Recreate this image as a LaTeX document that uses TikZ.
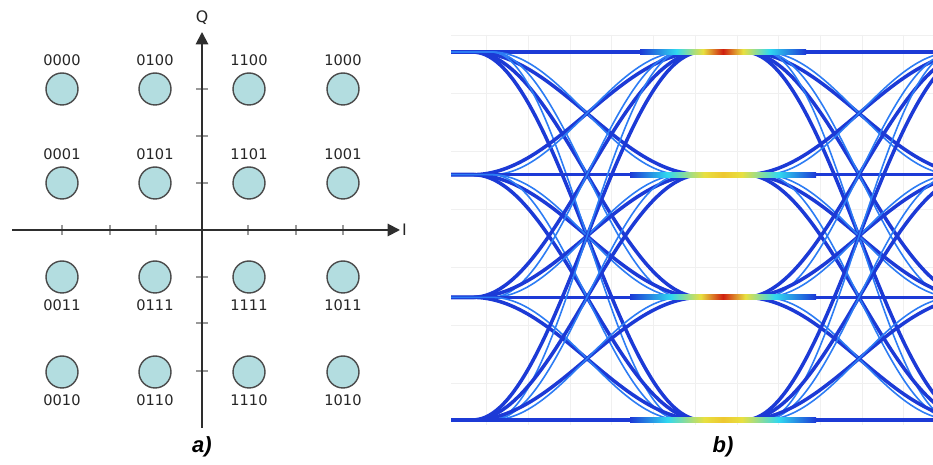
\documentclass[tikz,border=0pt]{standalone}
\usepackage{fontspec}
\setmainfont{DejaVu Sans}
\newfontfamily\capfont{Liberation Sans}
\usetikzlibrary{arrows.meta}
\definecolor{dotfill}{HTML}{B3DDE0}
\definecolor{dotline}{HTML}{4A4A4A}
\definecolor{axisgray}{HTML}{2E2E2E}
\definecolor{tracemain}{HTML}{1C3AD6}
\definecolor{tracelight}{HTML}{2C7CF4}
\definecolor{hotcyan}{HTML}{30D8F0}
\definecolor{hotyel}{HTML}{E8E040}
\definecolor{hotred}{HTML}{D02010}
% TikZ maps the path onto the span 25bp--75bp of the shading
\pgfdeclarehorizontalshading{eyered}{100bp}{color(0bp)=(tracemain); color(25bp)=(tracemain); color(36bp)=(hotcyan); color(44bp)=(hotyel); color(50bp)=(hotred); color(56bp)=(hotyel); color(64bp)=(hotcyan); color(75bp)=(tracemain); color(100bp)=(tracemain)}
\pgfdeclarehorizontalshading{eyeyel}{100bp}{color(0bp)=(tracemain); color(25bp)=(tracemain); color(35bp)=(hotcyan); color(45bp)=(hotyel); color(50bp)=(hotyel!75!orange); color(55bp)=(hotyel); color(65bp)=(hotcyan); color(75bp)=(tracemain); color(100bp)=(tracemain)}
\begin{document}
\begin{tikzpicture}[x=0.02cm, y=-0.02cm]
        \tikzstyle{dot}=[circle, draw=dotline, fill=dotfill, line width=0.8pt, minimum size=0.64cm, inner sep=0pt]
        \tikzstyle{bitlbl}=[font=\fontsize{8.3}{9}\selectfont, text=black!85]
        \tikzstyle{axis}=[draw=axisgray, line width=1.1pt, -{Triangle[length=7pt,width=7pt]}]
        \tikzstyle{tick}=[black!40, line width=0.6pt]
        \tikzstyle{axlbl}=[font=\fontsize{9}{10}\selectfont, text=black!85, inner sep=1pt]
        \tikzstyle{panel}=[font=\capfont\bfseries\itshape\fontsize{12.5}{14}\selectfont]
        \tikzstyle{trace}=[tracemain, line width=2pt]
        \tikzstyle{tracethin}=[tracelight, line width=0.9pt]
        \tikzstyle{gridline}=[black!6, line width=0.5pt]

        \useasboundingbox[fill=white] (0,0) rectangle (933,465);

        % Constellation a)
        \coordinate (iL) at (12,230);
        \coordinate (iR) at (400,230);
        \coordinate (qB) at (202,428);
        \coordinate (qT) at (202,32);
        \foreach \t in {62,110,156,248,296,343}
            \draw[tick] (\t,225) -- (\t,235);
        \foreach \t in {89,136,183,277,323,371}
            \draw[tick] (196,\t) -- (208,\t);
        \draw[axis] (iL) -- (iR);
        \draw[axis] (qB) -- (qT);
        \node[axlbl, anchor=west] (ilbl) at (iR) {I};
        \node[axlbl] (qlbl) at (202,18) {Q};

        \foreach \xx/\yy/\code/\side in {62/89/0000/above, 155/89/0100/above, 249/89/1100/above, 343/89/1000/above,
                                         62/183/0001/above, 155/183/0101/above, 249/183/1101/above, 343/183/1001/above,
                                         62/277/0011/below, 155/277/0111/below, 249/277/1111/below, 343/277/1011/below,
                                         62/372/0010/below, 155/372/0110/below, 249/372/1110/below, 343/372/1010/below}
            \node[dot, label={[bitlbl, name=t\code]\side:\code}] (d\code) at (\xx,\yy) {};

        \node[panel] (capa) at (202,447) {a)};

        % Eye diagram b)
        \begin{scope}
            \clip (451,30) rectangle (933,430);
            \foreach \gx in {486,528,570,611,653,695,737,778,820,862,903}
                \draw[gridline] (\gx,35) -- (\gx,425);
            \foreach \gy in {35,93,151,209,267,325,383}
                \draw[gridline] (451,\gy) -- (933,\gy);
            \foreach \k in {0,1}
            \foreach \i in {0,...,3}
            \foreach \j in {0,...,3} {
                \draw[trace] plot[domain=0:1, samples=40, smooth]
                    ({451+272*\k+272*\x}, {52+122.67*\i+122.67*(\j-\i)*(1-cos(180*min(max((\x-0.08)/0.84,0),1)))/2});
                \ifnum\i=\j\else
                \draw[tracethin] plot[domain=0:1, samples=40, smooth]
                    ({451+272*\k+272*\x}, {52+122.67*\i+122.67*(\j-\i)*(1-cos(180*min(max((\x-0.15)/0.70,0),1)))/2});
                \fi
            }
            % hot spots
            \shade[shading=eyered] (640,49.5) rectangle (806,55);
            \shade[shading=eyeyel] (630,172.5) rectangle (816,178);
            \shade[shading=eyered] (630,294.5) rectangle (816,300);
            \shade[shading=eyeyel] (630,417.5) rectangle (816,423);
        \end{scope}

        \node[panel] (capb) at (723,447) {b)};
    \end{tikzpicture}
\end{document}
